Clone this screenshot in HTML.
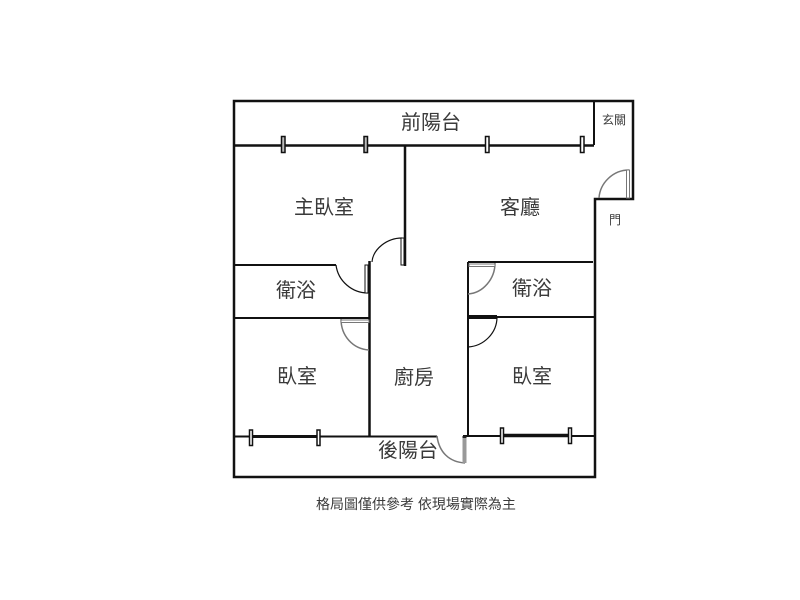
<!DOCTYPE html>
<html>
<head>
<meta charset="utf-8">
<style>
html,body{margin:0;padding:0;background:#fff;width:800px;height:600px;overflow:hidden}
svg{display:block}
text{font-family:"Liberation Sans","Noto Sans CJK TC",sans-serif;fill:#3a3a3a;text-anchor:middle}
</style>
</head>
<body>
<svg width="800" height="600" viewBox="0 0 800 600">
<g stroke="#111" stroke-width="2" fill="none">
<path d="M234 101H633V199H595V477H234V101Z" stroke-width="2.5"/>
<path d="M594 101V145" />
<path d="M234 145.500H594" stroke-width="2.500"/>
<path d="M405 145V266" stroke-width="2.500"/>
<path d="M234 265H336" stroke-width="2"/>
<path d="M369.500 261V436" stroke-width="2.500"/>
<path d="M234 318H369" stroke-width="2"/>
<path d="M468 262V436" stroke-width="2"/>
<path d="M468 262H593" stroke-width="2"/>
<path d="M468 317H595" stroke-width="2"/>
<path d="M468 317H497" stroke-width="4"/>
<path d="M234 436.500H437" stroke-width="2"/>
<path d="M250 436.500H318" stroke-width="3"/>
<path d="M463 436H595" stroke-width="2"/>
<path d="M501 435.500H569" stroke-width="3.500"/>
</g>
<!-- windows -->
<g fill="#fff" stroke="#111" stroke-width="1.500">
<rect x="281.500" y="136.500" width="3.500" height="16" fill="#bbb"/>
<rect x="364" y="136.500" width="3.500" height="16" fill="#bbb"/>
<rect x="485.500" y="136.500" width="3.500" height="16"/>
<rect x="580.500" y="136.500" width="3.500" height="16"/>
<rect x="249.500" y="430" width="3" height="15.500"/>
<rect x="317" y="430" width="3" height="15.500"/>
<rect x="500.500" y="428" width="3" height="15.500"/>
<rect x="568.500" y="428" width="3" height="15.500"/>
</g>
<!-- doors -->
<g fill="none" stroke="#111" stroke-width="1.200">
<path d="M372 262C373 249 387 238 402 238"/>
<path d="M336 265C338 281 352 293 368 293"/>
<path d="M468 347C484 346 497 333 497 317"/>
</g>
<g fill="none" stroke="#777" stroke-width="1.500">
<path d="M599 198C600 183 613 170 629 170"/>
<path d="M341 319C341 336 353 349 369 350"/>
<path d="M495 263C495 279 483 293 468 294"/>
<path d="M437 436C439 452 449 462 465 463"/>
</g>
<g fill="#fff" stroke="#111" stroke-width="1">
<rect x="401" y="238" width="3" height="27"/>
<rect x="365" y="265" width="3" height="28"/>
</g>
<path d="M369 265V293" stroke="#111" stroke-width="2"/>
<g stroke="#777" stroke-width="1" fill="#fff">
<rect x="626.500" y="170" width="3" height="28"/>
<rect x="341" y="320" width="28" height="2.500"/>
<rect x="469" y="264" width="26" height="2.500"/>
</g>
<rect x="462.500" y="436" width="4" height="27" fill="#999"/>
<rect x="462.500" y="436" width="4" height="2" fill="#222"/>
<text x="431" y="129" font-size="20">前陽台</text>
<text x="614" y="124" font-size="12">玄關</text>
<text x="615" y="224" font-size="12">門</text>
<text x="324" y="214" font-size="20">主臥室</text>
<text x="520" y="214" font-size="20">客廳</text>
<text x="296" y="297" font-size="20">衛浴</text>
<text x="532" y="295" font-size="20">衛浴</text>
<text x="297" y="383" font-size="20">臥室</text>
<text x="414" y="384" font-size="20">廚房</text>
<text x="532" y="383" font-size="20">臥室</text>
<text x="408" y="457" font-size="20">後陽台</text>
<text x="416" y="509" font-size="14">格局圖僅供參考 依現場實際為主</text>
</svg>
</body>
</html>
